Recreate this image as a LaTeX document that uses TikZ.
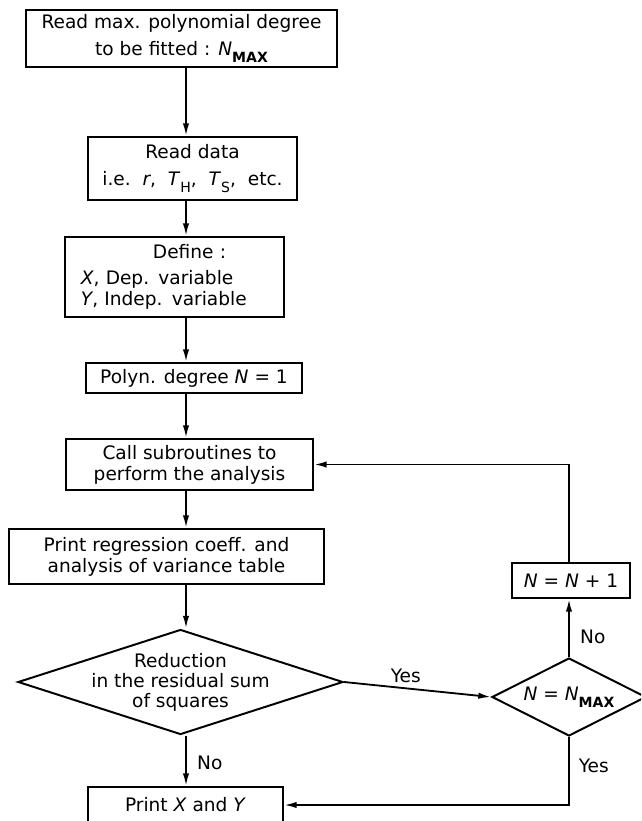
\documentclass[tikz,border=0pt]{standalone}
\usepackage{fontspec}
\setmainfont{DejaVu Sans}
\usetikzlibrary{shapes.geometric,arrows.meta}
\newcommand{\lowsub}[1]{\raisebox{-0.7ex}{\fontsize{10}{12}\selectfont #1}}
\newcommand{\Nmax}{\textit{N}\lowsub{\bfseries MAX}}
\tikzset{
  box/.style={draw, line width=1.4pt, inner sep=0pt, align=center},
  decision/.style={draw, diamond, line width=1.4pt, inner sep=0pt},
  flow/.style={line width=1.3pt, -{Latex[length=9pt,width=4.5pt]}},
  every node/.style={font=\fontsize{13.2}{15}\selectfont}
}
\begin{document}
\begin{tikzpicture}[x=0.025cm, y=-0.025cm]
  \clip (0,0) rectangle (641,821);
  \coordinate (c) at (186,0);
  \node[box, minimum width=7.775cm, minimum height=1.425cm] (rmax) at (181.5,38.5)
    {Read max. polynomial degree\\[4pt] to be fitted : \Nmax};
  \node[box, minimum width=5.225cm, minimum height=1.575cm] (rdata) at (192.5,168.5)
    {Read data\\[4pt] i.e.\ \ \textit{r}, \ \textit{T}\lowsub{H}, \ \textit{T}\lowsub{S}, \ etc.};
  \node[box, align=left, text width=4.675cm, minimum width=5.475cm, minimum height=2cm] (define) at (174.5,277)
    {\hspace*{1.8cm}Define :\\[3pt] \textit{X}, Dep. variable\\ \textit{Y}, Indep. variable};
  \node[box, minimum width=5.4cm, minimum height=0.75cm] (degree) at (194,378)
    {Polyn. degree \textit{N} = 1};
  \node[box, minimum width=6.175cm, minimum height=1.275cm] (call) at (189.5,464.5)
    {Call subroutines to\\ perform the analysis};
  \node[box, minimum width=7.875cm, minimum height=1.375cm] (table) at (166.5,556.5)
    {Print regression coeff. and\\ analysis of variance table};
  \node[decision, minimum width=8.125cm, minimum height=2.625cm] (red) at (180.5,682) {};
  \node[align=center, font=\fontsize{13.2}{14.2}\selectfont] (redtext) at (red)
    {Reduction\\ in the residual sum\\ of squares};
  \node[decision, aspect=2, minimum width=3.85cm, minimum height=1.95cm] (nmax) at (569,697)
    {\textit{N} = \Nmax};
  \node[box, minimum width=2.95cm, minimum height=0.875cm] (inc) at (571,580.5)
    {\textit{N} = \textit{N} + 1};
  \node[box, minimum width=4.875cm, minimum height=0.9cm] (pxy) at (185.5,805)
    {Print \textit{X} and \textit{Y}};

  \draw[flow] (c |- rmax.south) -- (c |- rdata.north);
  \draw[flow] (c |- rdata.south) -- (c |- define.north);
  \draw[flow] (c |- define.south) -- (c |- degree.north);
  \draw[flow] (c |- degree.south) -- (c |- call.north);
  \draw[flow] (c |- call.south) -- (c |- table.north);
  \draw[flow] (c |- table.south) -- (c |- red.north);
  \draw[flow] (c |- red.south) -- node[right, pos=0.55, xshift=4pt] {No} (c |- pxy.north);
  \draw[flow] (red.east) -- node[above, pos=0.42] {Yes} (nmax.west);
  \draw[flow] (nmax.north) -- node[right, pos=0.35, xshift=4pt] {No} (nmax.north |- inc.south);
  \draw[flow] (nmax.north |- inc.north) |- (call.east);
  \draw[flow] (nmax.south) |- node[right, pos=0.21, xshift=3pt] {Yes} (pxy.east);
\end{tikzpicture}
\end{document}
